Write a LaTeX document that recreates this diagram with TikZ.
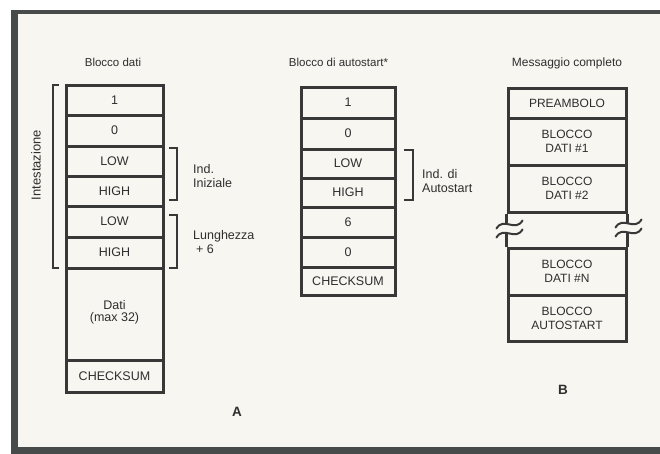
\documentclass[tikz,border=0pt]{standalone}
\usepackage{fontspec}
\setmainfont{Liberation Sans}
\usetikzlibrary{calc}
\definecolor{ink}{HTML}{2E2E2E}
\definecolor{boxline}{HTML}{383838}
\definecolor{frame}{HTML}{474C4A}
\definecolor{paper}{HTML}{F7F6F1}
\tikzset{
  cell/.style={draw=boxline, line width=3pt, inner sep=0pt, text=ink,
    font=\fontsize{12.5}{14}\selectfont, align=center},
  cellA/.style={cell, minimum width=97pt},
  cellS/.style={cell, minimum width=94pt},
  cellB/.style={cell, minimum width=118pt, font=\fontsize{12}{14}\selectfont},
  heading/.style={text=ink, font=\fontsize{11.5}{13}\selectfont, inner sep=0pt},
  note/.style={text=ink, font=\fontsize{12.5}{14}\selectfont, align=left, inner sep=0pt, anchor=west},
  brk/.style={draw=boxline, line width=1.5pt},
  tilde/.style={draw=boxline, line width=2pt, line cap=round},
  side/.style={draw=boxline, line width=3pt},
  letter/.style={text=ink, font=\bfseries\fontsize{13.5}{14}\selectfont, inner sep=0pt}
}
\begin{document}
\begin{tikzpicture}[x=1pt,y=-1pt]
\useasboundingbox (0,0) rectangle (660,453);
\clip (0,0) rectangle (660,453);
\fill[white] (0,0) rectangle (660,453);
\fill[paper] (14,12) rectangle (700,450);
\draw[line width=4.5pt, draw=frame] (14,12) -- (700,12);
\draw[line width=7pt, draw=frame] (14,10) -- (14,450) -- (700,450);

% ---------- Block A: Blocco dati ----------
\node[heading] (hA) at (113,62) {Blocco dati};
\node[cellA, minimum height=30pt] (a1) at (114.5,100) {1};
\node[cellA, minimum height=31pt] (a2) at (114.5,130.5) {0};
\node[cellA, minimum height=30pt] (a3) at (114.5,161) {LOW};
\node[cellA, minimum height=30pt] (a4) at (114.5,191) {HIGH};
\node[cellA, minimum height=31pt] (a5) at (114.5,221.5) {LOW};
\node[cellA, minimum height=31pt] (a6) at (114.5,252.5) {HIGH};
\node[cellA, minimum height=92pt] (a7) at (114.5,314) {\raisebox{6pt}{\shortstack{Dati\\(max 32)}}};
\node[cellA, minimum height=32pt] (a8) at (114.5,376) {CHECKSUM};

% brackets for block A
\coordinate (iT) at (53,85);
\coordinate (iB) at (53,268);
\draw[brk] ($(iT)+(6,0)$) -- (iT) -- (iB) -- ($(iB)+(6,0)$);
\node[heading, rotate=90, font=\fontsize{13}{14}\selectfont] (iLab) at (36,165) {Intestazione};

\coordinate (nT) at (177,148);
\coordinate (nB) at (177,200);
\draw[brk] ($(nT)+(-8,0)$) -- (nT) -- (nB) -- ($(nB)+(-8,0)$);
\node[note] (nLab) at (193,176) {Ind.\\Iniziale};

\coordinate (lT) at (177,215);
\coordinate (lB) at (177,268);
\draw[brk] ($(lT)+(-8,0)$) -- (lT) -- (lB) -- ($(lB)+(-8,0)$);
\node[note] (lLab) at (193,242) {Lunghezza\\\hspace*{3pt}+ 6};

\node[letter] (labA) at (237,412) {A};

% ---------- Block autostart ----------
\node[heading] (hS) at (338.5,62) {Blocco di autostart*};
\node[cellS, minimum height=31pt] (s1) at (348,102.5) {1};
\node[cellS, minimum height=31pt] (s2) at (348,133.5) {0};
\node[cellS, minimum height=29pt] (s3) at (348,163.5) {LOW};
\node[cellS, minimum height=29pt] (s4) at (348,192.5) {HIGH};
\node[cellS, minimum height=30pt] (s5) at (348,222) {6};
\node[cellS, minimum height=30pt] (s6) at (348,252) {0};
\node[cellS, minimum height=28pt] (s7) at (348,281) {CHECKSUM};

\coordinate (aT) at (413,150);
\coordinate (aB) at (413,200);
\draw[brk] ($(aT)+(-9,0)$) -- (aT) -- (aB) -- ($(aB)+(-9,0)$);
\node[note] (aLab) at (422,181) {Ind. di\\Autostart};

% ---------- Block B: Messaggio completo ----------
\node[heading, font=\fontsize{12}{13}\selectfont] (hB) at (567,63) {Messaggio completo};
\node[cellB, minimum height=30pt] (b1) at (567,103) {PREAMBOLO};
\node[cellB, minimum height=47pt] (b2) at (567,141.5) {BLOCCO\\DATI \#1};
\node[cellB, minimum height=47pt] (b3) at (567,188.5) {BLOCCO\\DATI \#2};
\node[cellB, minimum height=47pt] (b5) at (567,271.5) {BLOCCO\\DATI \#N};
\node[cellB, minimum height=46pt] (b6) at (567,318) {BLOCCO\\AUTOSTART};

% broken sides of the omitted part
\coordinate (L1) at ($(b3.south west)+(0,11)$);
\coordinate (L2) at ($(b3.south west)+(0,20)$);
\coordinate (R1) at ($(b3.south east)+(0,10)$);
\coordinate (R2) at ($(b3.south east)+(0,19)$);
\draw[side] (b3.south west) -- (L1);
\draw[side] (L2) -- (b5.north west);
\draw[side] (b3.south east) -- (R1);
\draw[side] (R2) -- (b5.north east);
\foreach \c/\dx in {L1/3, L2/3, R1/1, R2/1}{
  \draw[tilde] ($(\c)+(\dx-13,4)$) .. controls +(7,-12) and +(-7,12) .. ($(\c)+(\dx+13,-4)$);
}

\node[letter] (labB) at (563,390) {B};
\end{tikzpicture}
\end{document}
